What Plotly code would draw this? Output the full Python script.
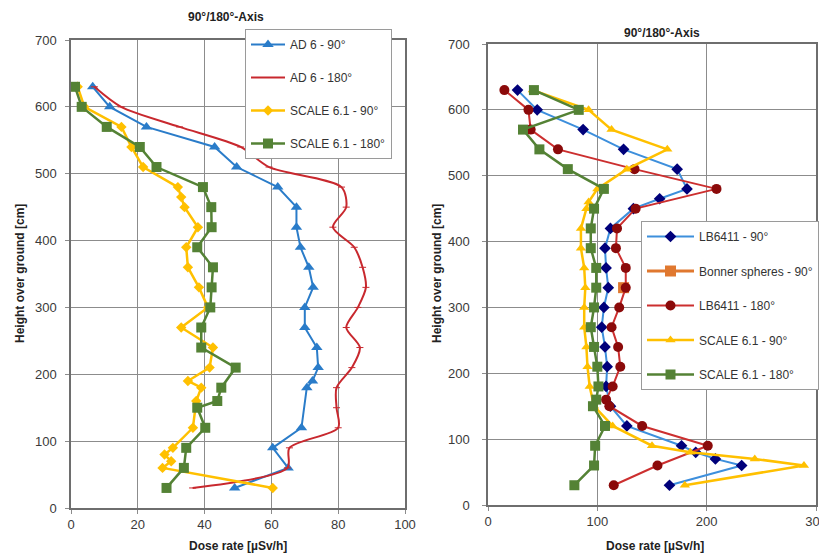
import plotly.graph_objects as go

# ---------------- Left panel data ----------------
ad6_90_h = [630, 600, 570, 540, 510, 480, 450, 420, 390, 360, 330, 300, 270, 240, 210, 190, 180, 120, 90, 60, 30]
ad6_90_x = [6.5, 11.6, 22.6, 43, 49.6, 61.9, 67.5, 67.5, 68.7, 71.2, 72.5, 70, 70, 73.6, 74, 72.3, 70.6, 69, 60.4, 65, 49]

ad6_180_h = [630, 600, 570, 540, 510, 480, 450, 420, 390, 360, 330, 300, 270, 240, 210, 180, 150, 120, 90, 60, 30]
ad6_180_x = [7, 15, 32.5, 50.8, 59.3, 81, 82.4, 78.4, 84.8, 87.3, 88.3, 85.9, 82.4, 86.5, 84.1, 79.5, 79.5, 80, 65.4, 64.8, 36.4]

sc90_l_h = [630, 600, 570, 540, 510, 480, 465, 450, 420, 390, 360, 330, 300, 270, 240, 210, 190, 180, 160, 120, 90, 80, 70, 60, 30]
sc90_l_x = [2, 4, 15.1, 18.1, 21.6, 32, 33, 34, 38, 34.5, 35, 38.3, 41, 33, 42.5, 41.5, 35, 39, 37.5, 36.5, 30.5, 28, 30, 27.4, 60.4]

sc180_l_h = [630, 600, 570, 540, 510, 480, 450, 420, 390, 360, 330, 300, 270, 240, 210, 180, 160, 150, 120, 90, 60, 30]
sc180_l_x = [1.2, 3.2, 10.7, 20.6, 25.6, 39.5, 42, 42.1, 37.8, 42.5, 42.1, 41.7, 39, 39, 49.3, 45, 43.8, 37.8, 40.2, 34.5, 33.8, 28.6]

# ---------------- Right panel data ----------------
lb90_h = [630, 600, 570, 540, 510, 480, 465, 450, 420, 390, 360, 330, 300, 270, 240, 210, 180, 150, 120, 90, 80, 70, 60, 30]
lb90_x = [27, 45, 87, 124, 173, 182, 157, 133, 112, 107, 108, 110, 106, 104, 107, 109, 108, 112, 127, 177, 190, 208, 232, 166]

bonner_h = [330]
bonner_x = [124]

lb180_h = [630, 600, 570, 540, 510, 480, 450, 420, 390, 360, 330, 300, 270, 240, 210, 180, 160, 150, 120, 90, 60, 30]
lb180_x = [15, 37, 39, 64, 134, 209, 135, 118, 117, 126, 126, 120, 113, 119, 121, 114, 108, 111, 141, 201, 155, 115]

sc90_r_h = [630, 600, 570, 540, 510, 480, 460, 450, 420, 390, 360, 330, 300, 270, 240, 210, 180, 150, 120, 90, 80, 70, 60, 30]
sc90_r_x = [41, 92, 113, 164, 127, 100, 92, 90, 85, 85, 88, 89, 88, 88, 90, 91, 93, 97, 114, 150, 185, 244, 289, 180]

sc180_r_h = [630, 600, 570, 540, 510, 480, 450, 420, 390, 360, 330, 300, 270, 240, 210, 180, 160, 150, 120, 90, 60, 30]
sc180_r_x = [42, 83, 32, 47, 73, 106, 97, 94, 94, 99, 99, 97, 94, 97, 100, 101, 99, 96, 107, 98, 97, 79]

title_text = "90°/180°-Axis"
x_title = "Dose rate [µSv/h]"
y_title = "Height over ground [cm]"

BLUE = "#2a7cc9"
RED = "#c8282e"
YELLOW = "#ffc000"
GREEN = "#548235"
NAVY = "#00007a"
DARKRED = "#8b0a0a"
ORANGE = "#e0782f"

# page body has an 8px margin: the figure is drawn from (8, 8) of the window
OFF = 8
W, H = 827 - OFF, 556 - OFF
FONT = "Liberation Sans, Arial, sans-serif"

fig = go.Figure()

# Left traces
fig.add_trace(go.Scatter(x=ad6_90_x, y=ad6_90_h, mode="lines+markers", name="AD 6 - 90°",
                         line=dict(color=BLUE, width=2), marker=dict(symbol="triangle-up", size=10, color=BLUE),
                         xaxis="x", yaxis="y", legend="legend", legendgroup="a1"))
fig.add_trace(go.Scatter(x=ad6_180_x, y=ad6_180_h, mode="lines+markers", name="AD 6 - 180°",
                         line=dict(color=RED, width=2, shape="spline", smoothing=0.8),
                         marker=dict(symbol="line-ew", size=5, color=RED, line=dict(color=RED, width=1)),
                         xaxis="x", yaxis="y", legend="legend", legendgroup="a2"))
fig.add_trace(go.Scatter(x=sc90_l_x, y=sc90_l_h, mode="lines+markers", name="SCALE 6.1 - 90°",
                         line=dict(color=YELLOW, width=2.5), marker=dict(symbol="diamond", size=8, color=YELLOW),
                         xaxis="x", yaxis="y", legend="legend", legendgroup="a3"))
fig.add_trace(go.Scatter(x=sc180_l_x, y=sc180_l_h, mode="lines+markers", name="SCALE 6.1 - 180°",
                         line=dict(color=GREEN, width=2.5), marker=dict(symbol="square", size=10, color=GREEN),
                         xaxis="x", yaxis="y", legend="legend", legendgroup="a4"))

# Right traces
fig.add_trace(go.Scatter(x=lb90_x, y=lb90_h, mode="lines+markers", name="LB6411 - 90°",
                         line=dict(color="#3d8fdc", width=2), marker=dict(symbol="diamond", size=9, color=NAVY),
                         xaxis="x2", yaxis="y2", legend="legend2", legendgroup="b1"))
fig.add_trace(go.Scatter(x=bonner_x, y=bonner_h, mode="lines+markers", name="Bonner spheres - 90°",
                         line=dict(color=ORANGE, width=3), marker=dict(symbol="square", size=11, color=ORANGE),
                         xaxis="x2", yaxis="y2", legend="legend2", legendgroup="b2"))
fig.add_trace(go.Scatter(x=lb180_x, y=lb180_h, mode="lines+markers", name="LB6411 - 180°",
                         line=dict(color="#cc2f2f", width=2), marker=dict(symbol="circle", size=10, color=DARKRED),
                         xaxis="x2", yaxis="y2", legend="legend2", legendgroup="b3"))
fig.add_trace(go.Scatter(x=sc90_r_x, y=sc90_r_h, mode="lines+markers", name="SCALE 6.1 - 90°",
                         line=dict(color=YELLOW, width=2.5), marker=dict(symbol="triangle-up", size=9, color=YELLOW),
                         xaxis="x2", yaxis="y2", legend="legend2", legendgroup="b4"))
fig.add_trace(go.Scatter(x=sc180_r_x, y=sc180_r_h, mode="lines+markers", name="SCALE 6.1 - 180°",
                         line=dict(color=GREEN, width=2.5), marker=dict(symbol="square", size=10, color=GREEN),
                         xaxis="x2", yaxis="y2", legend="legend2", legendgroup="b5"))

axis_common = dict(showgrid=True, gridcolor="#8c8c8c", gridwidth=1, showline=True, linecolor="#6e6e6e",
                   linewidth=1.5, mirror=True, ticks="outside", ticklen=4, tickcolor="#8c8c8c",
                   tickfont=dict(family=FONT, size=13, color="#3a3a3a"), zeroline=False, automargin=False)

def px(x):
    return (x - OFF) / W

def py(y):
    return 1 - (y - OFF) / H

def dom_x(a, b):
    return [px(a), px(b)]

def dom_y(top, bottom):
    return [py(bottom), py(top)]

fig.update_layout(
    width=W, height=H,
    margin=dict(l=0, r=0, t=0, b=0, autoexpand=False),
    paper_bgcolor="white", plot_bgcolor="white",
    font=dict(family=FONT, color="#333333"),
    xaxis=dict(domain=dom_x(71, 405), range=[0, 100], dtick=20, anchor="y", **axis_common),
    yaxis=dict(domain=dom_y(40, 508), range=[0, 700], dtick=100, anchor="x", ticklabelstandoff=6, **axis_common),
    xaxis2=dict(domain=dom_x(488, 816), range=[0, 300], dtick=100, anchor="y2", **axis_common),
    yaxis2=dict(domain=dom_y(44, 505), range=[0, 700], dtick=100, anchor="x2", ticklabelstandoff=10, **axis_common),
    legend=dict(x=px(245), y=py(29), xanchor="left", yanchor="top", bgcolor="white",
                bordercolor="#9a9a9a", borderwidth=1, tracegroupgap=14, itemwidth=34,
                font=dict(family=FONT, size=12, color="#333333")),
    legend2=dict(x=px(641), y=py(221), xanchor="left", yanchor="top", bgcolor="white",
                 bordercolor="#9a9a9a", borderwidth=1, tracegroupgap=15.5, itemwidth=47,
                 font=dict(family=FONT, size=12, color="#333333")),
    showlegend=True,
)

bold = dict(family=FONT, size=12, color="#222222")

def ann(text, x, y, angle=0):
    return dict(text="<b>" + text + "</b>", x=px(x), y=py(y), xref="paper", yref="paper",
                xanchor="center", yanchor="middle", showarrow=False, font=bold, textangle=angle)

annots = [
    ann(title_text, 226, 17),
    ann(title_text, 662, 33),
    ann(x_title, 238, 546),
    ann(x_title, 655, 546),
    ann(y_title, 20, 274, -90),
    ann(y_title, 437, 274, -90),
]
fig.update_layout(annotations=annots)

fig.write_html("out.html")
